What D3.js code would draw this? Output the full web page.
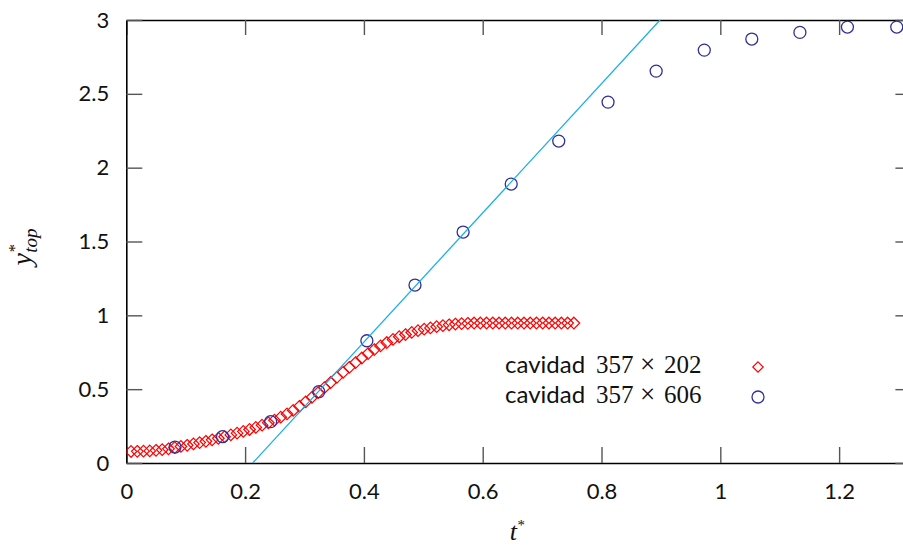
<!DOCTYPE html>
<html>
<head>
<meta charset="utf-8">
<script src="https://cdn.jsdelivr.net/npm/d3@7"></script>
<style>
  body { margin: 0; background: #fff; }
  .tick line { stroke: #555; stroke-width: 1.4; }
  .tick text { font-family: Lato, "Open Sans", sans-serif; font-size: 22px; fill: #111; }
  .domain { stroke: #000; stroke-width: 1.6; }
</style>
</head>
<body>
<div id="chart"></div>
<script>
// chart size
var svgWidth = 903
var svgHeight = 546

// plot box (pixels)
var boxLeft = 126.3, boxRight = 910.4, boxTop = 20, boxBottom = 463

// cavidad 357x202 (red diamonds)
var t202 = [0.008, 0.0185, 0.029, 0.0395, 0.050, 0.0605, 0.071, 0.0815, 0.092, 0.1025,
  0.113, 0.1235, 0.134, 0.1445, 0.155, 0.1655, 0.176, 0.1865, 0.197, 0.2075,
  0.218, 0.2285, 0.239, 0.2495, 0.260, 0.2705, 0.281, 0.2915, 0.302, 0.3125,
  0.323, 0.3335, 0.344, 0.3545, 0.365, 0.3755, 0.386, 0.3965, 0.407, 0.4175,
  0.428, 0.4385, 0.449, 0.4595, 0.470, 0.4805, 0.491, 0.5015, 0.512, 0.5225,
  0.533, 0.5435, 0.554, 0.5645, 0.575, 0.5855, 0.596, 0.6065, 0.617, 0.6275,
  0.638, 0.6485, 0.659, 0.6695, 0.680, 0.6905, 0.701, 0.7115, 0.722, 0.7325,
  0.743, 0.7535]
var y202 = [0.078, 0.079, 0.080, 0.082, 0.086, 0.090, 0.096, 0.104, 0.112, 0.120,
  0.129, 0.138, 0.147, 0.157, 0.167, 0.178, 0.190, 0.202, 0.214, 0.227,
  0.241, 0.256, 0.272, 0.290, 0.310, 0.332, 0.356, 0.384, 0.414, 0.445,
  0.477, 0.510, 0.545, 0.580, 0.614, 0.648, 0.680, 0.711, 0.741, 0.768,
  0.793, 0.816, 0.837, 0.855, 0.870, 0.884, 0.896, 0.906, 0.915, 0.923,
  0.930, 0.936, 0.941, 0.944, 0.946, 0.948, 0.948, 0.948, 0.948, 0.948,
  0.948, 0.948, 0.948, 0.948, 0.948, 0.948, 0.948, 0.948, 0.948, 0.948,
  0.948, 0.948]

// cavidad 357x606 (blue circles)
var t606 = [0.082, 0.162, 0.243, 0.324, 0.405, 0.486, 0.567, 0.648, 0.728, 0.811,
  0.892, 0.973, 1.053, 1.134, 1.214, 1.297]
var y606 = [0.108, 0.178, 0.280, 0.483, 0.828, 1.205, 1.564, 1.889, 2.180, 2.444,
  2.654, 2.796, 2.871, 2.916, 2.952, 2.952]

// fitted line
var tLine = [0.2128, 0.8985]
var yLine = [0, 3]

var xTicks = [0, 0.2, 0.4, 0.6, 0.8, 1, 1.2]
var yTicks = [0, 0.5, 1, 1.5, 2, 2.5, 3]
var legendNames = ["cavidad", "cavidad"]
var legendA = ["357", "357"]
var legendB = ["202", "606"]

var svg = d3.select("#chart")
  .append("svg")
  .attr("width", svgWidth)
  .attr("height", svgHeight)

var xScale = d3.scaleLinear().domain([0, 1.32]).range([boxLeft, boxRight])
var yScale = d3.scaleLinear().domain([0, 3]).range([boxBottom, boxTop])

// axes, ticks pointing inward like gnuplot
svg.append("g")
  .attr("transform", `translate(0, ${boxBottom})`)
  .call(d3.axisBottom(xScale).tickValues(xTicks).tickSizeInner(-16).tickSizeOuter(0)
    .tickPadding(20).tickFormat(d3.format("")))

svg.append("g")
  .attr("transform", `translate(0, ${boxTop})`)
  .call(d3.axisTop(xScale).tickValues(xTicks).tickSizeInner(-15).tickSizeOuter(0).tickFormat(""))

svg.append("g")
  .attr("transform", `translate(${boxLeft}, 0)`)
  .call(d3.axisLeft(yScale).tickValues(yTicks).tickSizeInner(-16).tickSizeOuter(0)
    .tickPadding(17).tickFormat(d3.format("")))

svg.append("g")
  .attr("transform", `translate(${boxRight}, 0)`)
  .call(d3.axisRight(yScale).tickValues(yTicks).tickSizeInner(-15).tickSizeOuter(0).tickFormat(""))

svg.selectAll(".tick text").attr("fill", "#111")

// clip to the plot box
svg.append("clipPath").attr("id", "clip")
  .append("rect")
  .attr("x", boxLeft).attr("y", boxTop)
  .attr("width", boxRight - boxLeft).attr("height", boxBottom - boxTop)

var plot = svg.append("g").attr("clip-path", "url(#clip)")

var diamond = "M0,-5.8L5.8,0L0,5.8L-5.8,0Z"

plot.append("g")
  .selectAll("path")
  .data(t202.map((t, i) => [t, y202[i]]))
  .enter()
  .append("path")
  .attr("d", diamond)
  .attr("transform", d => `translate(${xScale(d[0])}, ${yScale(d[1])})`)
  .attr("fill", "none")
  .attr("stroke", "#ff0000")
  .attr("stroke-width", 1.2)

plot.append("g")
  .selectAll("circle")
  .data(t606.map((t, i) => [t, y606[i]]))
  .enter()
  .append("circle")
  .attr("cx", d => xScale(d[0]))
  .attr("cy", d => yScale(d[1]))
  .attr("r", 6)
  .attr("fill", "none")
  .attr("stroke", "#30309a")
  .attr("stroke-width", 1.3)

plot.append("path")
  .datum(tLine.map((t, i) => [t, yLine[i]]))
  .attr("d", d3.line().x(d => xScale(d[0])).y(d => yScale(d[1])))
  .attr("fill", "none")
  .attr("stroke", "#1aaee8")
  .attr("stroke-width", 1.3)

// legend
var legend = svg.append("g").attr("fill", "#111")
legendNames.forEach(function(name, i) {
  var y = 373 + i * 30
  legend.append("text")
    .attr("x", 505).attr("y", y)
    .style("font-family", "Lato, sans-serif")
    .style("font-size", "24px")
    .text(name)
  var num = legend.append("text")
    .attr("y", y)
    .style("font-family", "'Liberation Serif', serif")
    .style("font-size", "25px")
  num.append("tspan").attr("x", 596).text(legendA[i])
  num.append("tspan").attr("x", 640).style("font-size", "27px").text("\u00d7")
  num.append("tspan").attr("x", 664).text(legendB[i])
})
legend.append("path")
  .attr("d", "M0,-5.2L5.2,0L0,5.2L-5.2,0Z")
  .attr("transform", "translate(758, 367)")
  .attr("fill", "none")
  .attr("stroke", "#ff0000")
  .attr("stroke-width", 1.2)
legend.append("circle")
  .attr("cx", 758).attr("cy", 397).attr("r", 6)
  .attr("fill", "none")
  .attr("stroke", "#30309a")
  .attr("stroke-width", 1.3)

// axis titles
var ylab = svg.append("text")
  .attr("transform", "translate(31, 247) rotate(-90)")
  .attr("text-anchor", "middle")
  .style("font-family", "'Liberation Serif', serif")
  .style("font-style", "italic")
  .style("font-size", "28px")
  .attr("fill", "#111")
ylab.append("tspan").text("y")
ylab.append("tspan").attr("dy", -11).style("font-size", "17px").text("*")
ylab.append("tspan").attr("dx", -8).attr("dy", 17).style("font-size", "19px").text("top")

var xlab = svg.append("text")
  .attr("x", 517)
  .attr("y", 540)
  .attr("text-anchor", "middle")
  .style("font-family", "'Liberation Serif', serif")
  .style("font-style", "italic")
  .style("font-size", "26px")
  .attr("fill", "#111")
xlab.append("tspan").text("t")
xlab.append("tspan").attr("dy", -10).style("font-size", "15px").text("*")
</script>
</body>
</html>
